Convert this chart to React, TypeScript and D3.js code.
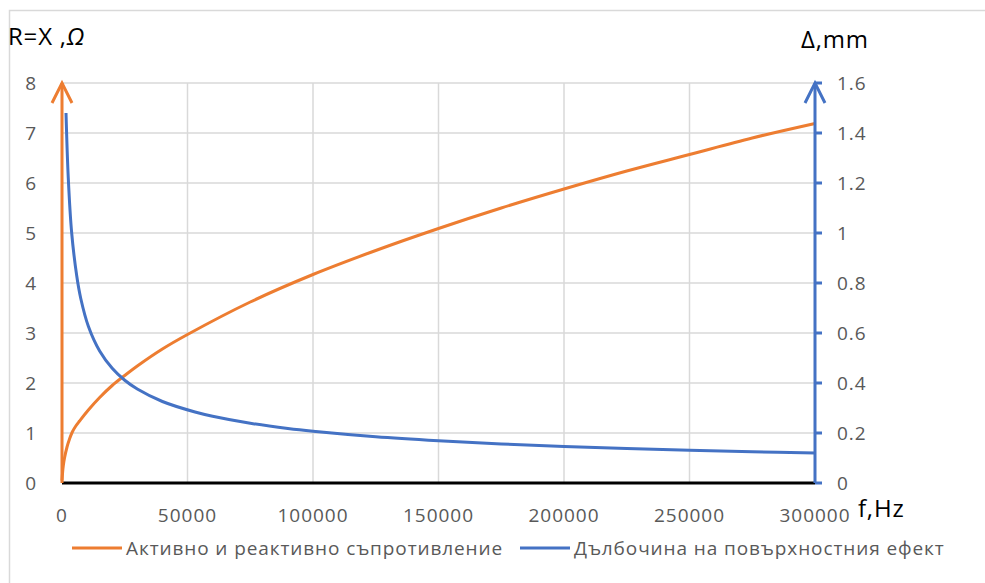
import React from "react";
import * as d3 from "d3";

const freqR = [0, 250, 500, 1000, 2000, 3000, 4100, 5500, 7000, 10500, 15000, 20000, 25000, 30000, 40000, 50000, 75000, 100000, 125000, 150000, 175000, 200000, 225000, 250000, 275000, 300000];
const resistance = [0.05, 0.22, 0.34, 0.5, 0.72, 0.88, 1.02, 1.14, 1.24, 1.46, 1.71, 1.95, 2.15, 2.34, 2.68, 2.97, 3.62, 4.17, 4.65, 5.09, 5.5, 5.88, 6.24, 6.57, 6.9, 7.19];

const freqD = [1600, 2500, 3860, 5850, 7500, 10500, 15000, 20000, 25000, 30000, 40000, 53000, 60000, 75000, 90000, 100000, 125000, 150000, 175000, 200000, 225000, 250000, 275000, 300000];
const depth = [1.48, 1.22, 1.0, 0.83, 0.737, 0.627, 0.528, 0.459, 0.411, 0.376, 0.326, 0.284, 0.267, 0.239, 0.218, 0.207, 0.185, 0.169, 0.156, 0.146, 0.138, 0.131, 0.125, 0.12];

const xTicks = [0, 50000, 100000, 150000, 200000, 250000, 300000];
const leftTicks = [0, 1, 2, 3, 4, 5, 6, 7, 8];
const rightTicks = [0, 0.2, 0.4, 0.6, 0.8, 1, 1.2, 1.4, 1.6];

const seriesNames = ["Активно и реактивно съпротивление", "Дълбочина на повърхностния ефект"];
const ORANGE = "#ED7D31";
const BLUE = "#4472C4";
const FONT = "'Open Sans', 'Noto Sans', sans-serif";

export default function App() {
  const left = 62, right = 815, top = 83, bottom = 483;
  const x = d3.scaleLinear().domain([0, 300000]).range([left, right]);
  const yL = d3.scaleLinear().domain([0, 8]).range([bottom, top]);
  const yR = d3.scaleLinear().domain([0, 1.6]).range([bottom, top]);

  const lineR = d3.line<number>().x((_, i) => x(freqR[i])).y((d) => yL(d)).curve(d3.curveCatmullRom.alpha(0.5));
  const lineD = d3.line<number>().x((_, i) => x(freqD[i])).y((d) => yR(d)).curve(d3.curveCatmullRom.alpha(0.5));

  const tickFs = 19;
  const tickLs = 1;

  return (
    <svg width={985} height={583} style={{ position: "absolute", left: 0, top: 0, background: "#fff" }} fontFamily={FONT}>
      <rect x={9.5} y={10.5} width={1000} height={600} fill="#fff" stroke="#d9d9d9" strokeWidth={1.5} />
      {/* grid */}
      {leftTicks.map((t) => (
        <line key={"h" + t} x1={left} x2={right} y1={yL(t)} y2={yL(t)} stroke="#d9d9d9" strokeWidth={1.5} />
      ))}
      {xTicks.map((t) => (
        <line key={"v" + t} x1={x(t)} x2={x(t)} y1={top} y2={bottom} stroke="#d9d9d9" strokeWidth={1.5} />
      ))}
      {/* series */}
      <path d={lineR(resistance) || ""} fill="none" stroke={ORANGE} strokeWidth={3} strokeLinejoin="round" />
      <path d={lineD(depth) || ""} fill="none" stroke={BLUE} strokeWidth={3} strokeLinejoin="round" />
      {/* x axis */}
      <line x1={left} x2={right} y1={bottom} y2={bottom} stroke="#000" strokeWidth={3} />
      {/* left axis with arrow */}
      <line x1={left} x2={left} y1={bottom} y2={top} stroke={ORANGE} strokeWidth={3} />
      <polyline points={`${left - 10},${top + 20} ${left},${top} ${left + 10},${top + 20}`} fill="none" stroke={ORANGE} strokeWidth={3} />
      {/* right axis with arrow */}
      <line x1={right} x2={right} y1={bottom} y2={top} stroke={BLUE} strokeWidth={3} />
      <polyline points={`${right - 10},${top + 20} ${right},${top} ${right + 10},${top + 20}`} fill="none" stroke={BLUE} strokeWidth={3} />
      {rightTicks.map((t) => (
        <line key={"rt" + t} x1={right} x2={right + 7} y1={yR(t)} y2={yR(t)} stroke={BLUE} strokeWidth={3} />
      ))}
      {/* tick labels */}
      {leftTicks.map((t) => (
        <text key={"lt" + t} x={37} y={yL(t)} dy="0.35em" textAnchor="end" fontSize={tickFs} letterSpacing={tickLs} fill="#595959">{t}</text>
      ))}
      {rightTicks.map((t) => (
        <text key={"rl" + t} x={837} y={yR(t)} dy="0.35em" textAnchor="start" fontSize={tickFs} letterSpacing={tickLs} fill="#595959">{t}</text>
      ))}
      {xTicks.map((t) => (
        <text key={"xl" + t} x={x(t)} y={522} textAnchor="middle" fontSize={tickFs} letterSpacing={tickLs} fill="#595959">{t}</text>
      ))}
      {/* axis titles */}
      <text x={8} y={45} fontSize={24} letterSpacing={0.8} fill="#000">R=X ,<tspan fontStyle="italic">Ω</tspan></text>
      <text x={801} y={48} fontSize={24} letterSpacing={0.8} fill="#000">Δ,mm</text>
      <text x={858} y={517} fontSize={24} letterSpacing={0.8} fill="#000">f,Hz</text>
      {/* legend */}
      <line x1={72} x2={122} y1={548} y2={548} stroke={ORANGE} strokeWidth={3} />
      <text x={126} y={555} fontSize={19} letterSpacing={0.9} fill="#595959">{seriesNames[0]}</text>
      <line x1={520} x2={570} y1={548} y2={548} stroke={BLUE} strokeWidth={3} />
      <text x={574} y={555} fontSize={19} letterSpacing={0.9} fill="#595959">{seriesNames[1]}</text>
    </svg>
  );
}
